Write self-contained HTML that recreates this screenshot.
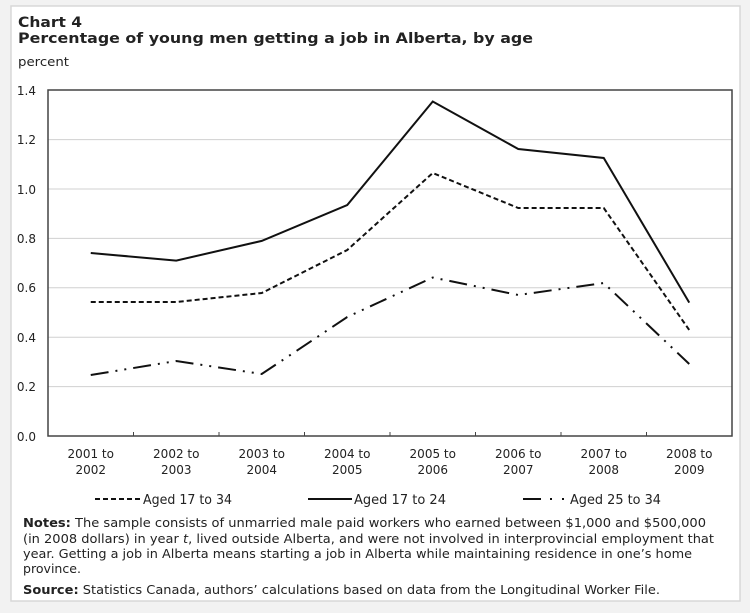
<!DOCTYPE html>
<html><head><meta charset="utf-8"><style>
html,body{margin:0;padding:0;background:#f2f2f2;}
svg{display:block;}
text{font-family:"DejaVu Sans","Liberation Sans",sans-serif;fill:#222;}
</style></head><body>
<svg width="750" height="613" viewBox="0 0 750 613" xmlns="http://www.w3.org/2000/svg">
<rect x="11" y="6" width="729" height="595" fill="#fff" stroke="#d8d8d8" stroke-width="1.5"/>
<text x="18" y="27" font-size="14" font-weight="bold" textLength="64" lengthAdjust="spacingAndGlyphs">Chart 4</text>
<text x="18" y="43" font-size="14" font-weight="bold" textLength="515" lengthAdjust="spacingAndGlyphs">Percentage of young men getting a job in Alberta, by age</text>
<text x="18" y="66" font-size="12" textLength="51" lengthAdjust="spacingAndGlyphs">percent</text>
<g stroke="#d0d0d0" stroke-width="1">
<line x1="48" x2="732" y1="386.6" y2="386.6"/><line x1="48" x2="732" y1="337.2" y2="337.2"/>
<line x1="48" x2="732" y1="287.8" y2="287.8"/><line x1="48" x2="732" y1="238.4" y2="238.4"/>
<line x1="48" x2="732" y1="189" y2="189"/><line x1="48" x2="732" y1="139.6" y2="139.6"/>
</g>
<rect x="48" y="90" width="684" height="346" fill="none" stroke="#444" stroke-width="1.5"/>
<g stroke="#444" stroke-width="1">
<line x1="133.5" x2="133.5" y1="436" y2="432"/><line x1="219" x2="219" y1="436" y2="432"/>
<line x1="304.5" x2="304.5" y1="436" y2="432"/><line x1="390" x2="390" y1="436" y2="432"/>
<line x1="475.5" x2="475.5" y1="436" y2="432"/><line x1="561" x2="561" y1="436" y2="432"/>
<line x1="646.5" x2="646.5" y1="436" y2="432"/>
</g>
<g font-size="12" text-anchor="end">
<text x="36" y="95">1.4</text><text x="36" y="144">1.2</text><text x="36" y="194">1.0</text>
<text x="36" y="243">0.8</text><text x="36" y="292">0.6</text><text x="36" y="342">0.4</text>
<text x="36" y="391">0.2</text><text x="36" y="441">0.0</text>
</g>
<g font-size="12" text-anchor="middle">
<text x="90.75" y="458">2001 to</text><text x="90.75" y="474">2002</text>
<text x="176.25" y="458">2002 to</text><text x="176.25" y="474">2003</text>
<text x="261.75" y="458">2003 to</text><text x="261.75" y="474">2004</text>
<text x="347.25" y="458">2004 to</text><text x="347.25" y="474">2005</text>
<text x="432.75" y="458">2005 to</text><text x="432.75" y="474">2006</text>
<text x="518.25" y="458">2006 to</text><text x="518.25" y="474">2007</text>
<text x="603.75" y="458">2007 to</text><text x="603.75" y="474">2008</text>
<text x="689.25" y="458">2008 to</text><text x="689.25" y="474">2009</text>
</g>
<g fill="none" stroke="#111" stroke-width="2">
<polyline points="90.75,253 176.25,260.6 261.75,240.9 347.25,205 432.75,101.5 518.25,149 603.75,158 689.25,302.6"/>
<polyline stroke-dasharray="5,3" points="90.75,302 176.25,302 261.75,293 347.25,250 432.75,173 518.25,208 603.75,208 689.25,330"/>
<polyline stroke-dasharray="18,7,2,7,2,7" points="90.75,375 176.25,361 261.75,374 347.25,317 432.75,277.5 518.25,295 603.75,283 689.25,364"/>
</g>
<g stroke="#111" stroke-width="2">
<line x1="95" x2="142" y1="499" y2="499" stroke-dasharray="5,3"/>
<line x1="308" x2="352" y1="499" y2="499"/>
<line x1="523" x2="541" y1="499" y2="499"/>
<line x1="550" x2="552" y1="499" y2="499"/><line x1="562" x2="564" y1="499" y2="499"/>
</g>
<g font-size="13">
<text x="143" y="504" textLength="89" lengthAdjust="spacingAndGlyphs">Aged 17 to 34</text>
<text x="354" y="504" textLength="92" lengthAdjust="spacingAndGlyphs">Aged 17 to 24</text>
<text x="570" y="504" textLength="91" lengthAdjust="spacingAndGlyphs">Aged 25 to 34</text>
</g>
<g font-size="12.5">
<text x="23" y="527" textLength="683" lengthAdjust="spacingAndGlyphs"><tspan font-weight="bold">Notes:</tspan> The sample consists of unmarried male paid workers who earned between $1,000 and $500,000</text>
<text x="23" y="543" textLength="691" lengthAdjust="spacingAndGlyphs">(in 2008 dollars) in year <tspan font-style="italic">t</tspan>, lived outside Alberta, and were not involved in interprovincial employment that</text>
<text x="23" y="558" textLength="669" lengthAdjust="spacingAndGlyphs">year. Getting a job in Alberta means starting a job in Alberta while maintaining residence in one’s home</text>
<text x="23" y="573" textLength="58" lengthAdjust="spacingAndGlyphs">province.</text>
<text x="23" y="594" textLength="637" lengthAdjust="spacingAndGlyphs"><tspan font-weight="bold">Source:</tspan>  Statistics Canada, authors’ calculations based on data from the Longitudinal Worker File.</text>
</g>
</svg>
</body></html>
